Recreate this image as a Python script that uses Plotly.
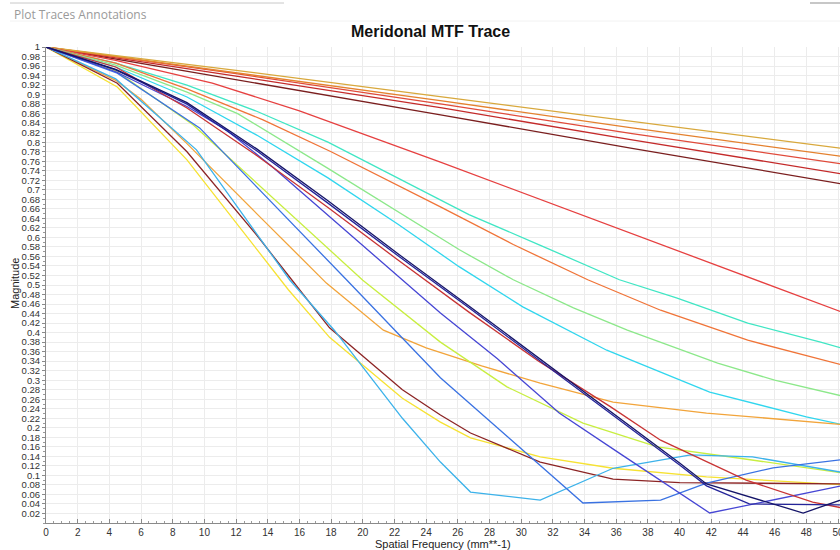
import plotly.graph_objects as go

# ---------------- data ----------------
# top cluster
freq_gold_top = [0, 4.4, 12, 25, 37, 50.5]
mtf_gold_top = [1, 0.982, 0.951, 0.895, 0.843, 0.786]
freq_orange_top = [0, 4.4, 12, 25, 37, 50.5]
mtf_orange_top = [1, 0.980, 0.947, 0.887, 0.830, 0.769]
freq_red_top = [0, 4.4, 12, 25, 37, 50.5]
mtf_red_top = [1, 0.979, 0.944, 0.880, 0.818, 0.753]
freq_crimson_top = [0, 4.4, 12, 25, 37, 50.5]
mtf_crimson_top = [1, 0.977, 0.939, 0.872, 0.805, 0.732]
freq_maroon_top = [0, 4.4, 12, 25, 37, 50.5]
mtf_maroon_top = [1, 0.975, 0.932, 0.857, 0.787, 0.711]

freq_red_mid = [0, 4.4, 10.5, 16, 24.9, 37.5, 47.8, 50.5]
mtf_red_mid = [1, 0.972, 0.924, 0.866, 0.758, 0.601, 0.473, 0.44]

freq_aqua = [0, 4.4, 8.9, 13.3, 17.8, 22.2, 26.7, 31.1, 36.2, 39.8, 44.3, 48.9, 50.5]
mtf_aqua = [1, 0.966, 0.92, 0.865, 0.80, 0.725, 0.648, 0.585, 0.511, 0.473, 0.42, 0.38, 0.365]

freq_coral = [0, 4.4, 8.9, 13.7, 18, 22.2, 24.9, 29.5, 34.2, 38.8, 44.3, 50.5]
mtf_coral = [1, 0.966, 0.912, 0.847, 0.78, 0.71, 0.664, 0.585, 0.511, 0.447, 0.384, 0.33]

freq_lgreen = [0, 4.4, 8.9, 12.1, 17.8, 22.2, 26.1, 29.5, 33.3, 36.7, 42.4, 46, 50.5]
mtf_lgreen = [1, 0.962, 0.905, 0.86, 0.745, 0.654, 0.574, 0.511, 0.452, 0.405, 0.336, 0.3, 0.265]

freq_cyan = [0, 4.4, 8.9, 13.3, 17.8, 22.2, 26.1, 30.1, 35.4, 41.9, 48, 50.5]
mtf_cyan = [1, 0.958, 0.895, 0.815, 0.725, 0.628, 0.538, 0.454, 0.363, 0.275, 0.223, 0.205]

freq_navy_a = [0, 4.4, 8.9, 13.3, 17.8, 22.2, 26.7, 31.1, 35.6, 40, 41.7, 44.4, 50.5]
mtf_navy_a = [1, 0.952, 0.88, 0.782, 0.672, 0.562, 0.452, 0.343, 0.232, 0.122, 0.078, 0.04, 0.038]
freq_navy_b = [0, 4.4, 8.9, 13.3, 17.8, 22.2, 26.7, 31.1, 35.6, 40, 41.7, 47.8, 50.5]
mtf_navy_b = [1, 0.953, 0.883, 0.786, 0.677, 0.566, 0.456, 0.347, 0.236, 0.126, 0.082, 0.021, 0.052]

freq_crimson = [0, 4.4, 8.9, 13.3, 17.8, 22.2, 26.7, 31.1, 35.6, 38.8, 44.2, 48.4, 50.5]
mtf_crimson = [1, 0.958, 0.872, 0.772, 0.663, 0.553, 0.443, 0.34, 0.245, 0.174, 0.09, 0.044, 0.03]

freq_blue = [0, 4.4, 8.9, 11.4, 14.3, 19, 24.9, 28.5, 32.4, 36.5, 41.9, 50.5]
mtf_blue = [1, 0.948, 0.875, 0.825, 0.748, 0.612, 0.441, 0.345, 0.231, 0.14, 0.021, 0.08]

freq_ygreen = [0, 4.4, 9.3, 13.3, 17.8, 20, 24.9, 29.1, 33.9, 38.6, 43.8, 50.5]
mtf_ygreen = [1, 0.95, 0.836, 0.714, 0.577, 0.51, 0.38, 0.286, 0.21, 0.16, 0.136, 0.104]

freq_amber = [0, 4.4, 6, 8.9, 13.3, 17.7, 21.3, 24, 27.5, 31.2, 35.8, 41.7, 50.5]
mtf_amber = [1, 0.93, 0.89, 0.797, 0.65, 0.504, 0.405, 0.368, 0.33, 0.294, 0.254, 0.231, 0.206]

freq_cornflower = [0, 4.5, 9.7, 14.3, 19, 24.9, 29, 33.9, 38.8, 41.7, 45.9, 50.5]
mtf_cornflower = [1, 0.945, 0.83, 0.672, 0.51, 0.305, 0.185, 0.042, 0.048, 0.084, 0.116, 0.134]

freq_maroon = [0, 4.5, 8.9, 13.3, 15.3, 17.9, 22.5, 24.9, 26.8, 31.2, 35.8, 40, 50.5]
mtf_maroon = [1, 0.924, 0.78, 0.605, 0.52, 0.41, 0.28, 0.227, 0.189, 0.128, 0.092, 0.085, 0.082]

freq_yellow = [0, 4.5, 8.9, 15.3, 17.9, 22.5, 24.9, 26.8, 31.2, 35.8, 41.7, 50.5]
mtf_yellow = [1, 0.916, 0.763, 0.49, 0.39, 0.262, 0.212, 0.179, 0.139, 0.115, 0.097, 0.08]

freq_sky = [0, 4.4, 9.5, 15.4, 18.2, 22.5, 24.9, 26.8, 31.2, 35.8, 40.7, 44.6, 50.5]
mtf_sky = [1, 0.933, 0.784, 0.51, 0.405, 0.22, 0.128, 0.065, 0.048, 0.115, 0.143, 0.139, 0.105]

x_tick_values = list(range(0, 51, 2))
y_tick_values = [round(0.02 * i, 2) for i in range(1, 51)]
y_tick_labels = [f"{v:g}" for v in y_tick_values]

series = [
    (freq_maroon_top, mtf_maroon_top, "#7a1e1e"),
    (freq_crimson_top, mtf_crimson_top, "#c42a2a"),
    (freq_red_top, mtf_red_top, "#e04a3a"),
    (freq_orange_top, mtf_orange_top, "#e4812e"),
    (freq_gold_top, mtf_gold_top, "#d8a83c"),
    (freq_red_mid, mtf_red_mid, "#e64040"),
    (freq_aqua, mtf_aqua, "#40e6c4"),
    (freq_coral, mtf_coral, "#f07438"),
    (freq_lgreen, mtf_lgreen, "#8ce88a"),
    (freq_cyan, mtf_cyan, "#30d6ee"),
    (freq_amber, mtf_amber, "#f2a43a"),
    (freq_ygreen, mtf_ygreen, "#c8ee40"),
    (freq_yellow, mtf_yellow, "#f6e232"),
    (freq_maroon, mtf_maroon, "#8c2424"),
    (freq_sky, mtf_sky, "#3cb2ea"),
    (freq_cornflower, mtf_cornflower, "#3a72e2"),
    (freq_blue, mtf_blue, "#4646d4"),
    (freq_crimson, mtf_crimson, "#c83434"),
    (freq_navy_a, mtf_navy_a, "#24249a"),
    (freq_navy_b, mtf_navy_b, "#141468"),
]

fig = go.Figure()
for fx, fy, col in series:
    fig.add_trace(go.Scatter(x=fx, y=fy, mode="lines",
                             line=dict(color=col, width=1.3),
                             hoverinfo="skip", showlegend=False))

# pixel geometry helpers (plot area: left 46, right 840, top 47, bottom 523)
L, R, T, B = 46, 840, 47, 523


def px(xp):
    return (xp - L) / (R - L)


def py(yp):
    return (B - yp) / (B - T)


fig.update_layout(
    width=840, height=550,
    margin=dict(l=L, r=840 - R, t=T, b=550 - B, autoexpand=False),
    paper_bgcolor="white", plot_bgcolor="white",
    font=dict(family="Liberation Sans, Arial, sans-serif", color="#333333"),
    showlegend=False,
    xaxis=dict(
        range=[0, 50.126], tickmode="array", tickvals=x_tick_values,
        ticks="inside", ticklen=4, tickcolor="#8a8a8a",
        showline=True, linecolor="#8a8a8a", linewidth=1,
        showgrid=True, gridcolor="#ececec", gridwidth=1, zeroline=False,
        tickfont=dict(size=10, color="#333333"),
        ticklabeloverflow="allow",
        minor=dict(dtick=0.5, ticks="inside", ticklen=2, tickcolor="#9a9a9a", showgrid=False),
        automargin=False,
    ),
    yaxis=dict(
        range=[0, 1], tickmode="array", tickvals=y_tick_values, ticktext=y_tick_labels,
        ticks="outside", ticklen=3, tickcolor="#8a8a8a",
        showline=True, linecolor="#8a8a8a", linewidth=1,
        showgrid=True, gridcolor="#ececec", gridwidth=1, zeroline=False,
        tickfont=dict(size=9.5, color="#333333"),
        minor=dict(dtick=0.01, ticks="outside", ticklen=2, tickcolor="#9a9a9a", showgrid=False),
        automargin=False,
    ),
)

fig.add_annotation(text="<b>Meridonal MTF Trace</b>", xref="paper", yref="paper",
                   x=px(430), y=py(32), xanchor="center", yanchor="middle", showarrow=False,
                   font=dict(size=16, color="#111111", family="Liberation Sans, Arial, sans-serif"))
fig.add_annotation(text="Spatial Frequency (mm**-1)", xref="paper", yref="paper",
                   x=px(443), y=py(544), xanchor="center", yanchor="middle", showarrow=False,
                   font=dict(size=11, color="#222222"))
fig.add_annotation(text="Magnitude", xref="paper", yref="paper", textangle=-90,
                   x=px(15), y=py(284), xanchor="center", yanchor="middle", showarrow=False,
                   font=dict(size=11, color="#222222"))
fig.add_annotation(text="Plot Traces Annotations", xref="paper", yref="paper",
                   x=px(12), y=py(14), xanchor="left", yanchor="middle", showarrow=False,
                   font=dict(size=12, color="#9a9a9a", family="Open Sans, Liberation Sans, sans-serif"))

fig.add_shape(type="line", xref="paper", yref="paper", x0=px(10), x1=px(284), y0=py(3), y1=py(3),
              line=dict(color="#c8c8c8", width=1))
fig.add_shape(type="line", xref="paper", yref="paper", x0=px(810), x1=px(840), y0=py(3), y1=py(3),
              line=dict(color="#b4b4b4", width=1.5))
fig.add_shape(type="line", xref="paper", yref="paper", x0=px(10), x1=px(840), y0=py(21), y1=py(21),
              line=dict(color="#f2f2f2", width=1))

fig.write_html(
    "out.html",
    config={"displayModeBar": False},
    post_script="document.body.style.margin='0';document.body.style.padding='0';"
                "document.documentElement.style.overflow='hidden';",
)
